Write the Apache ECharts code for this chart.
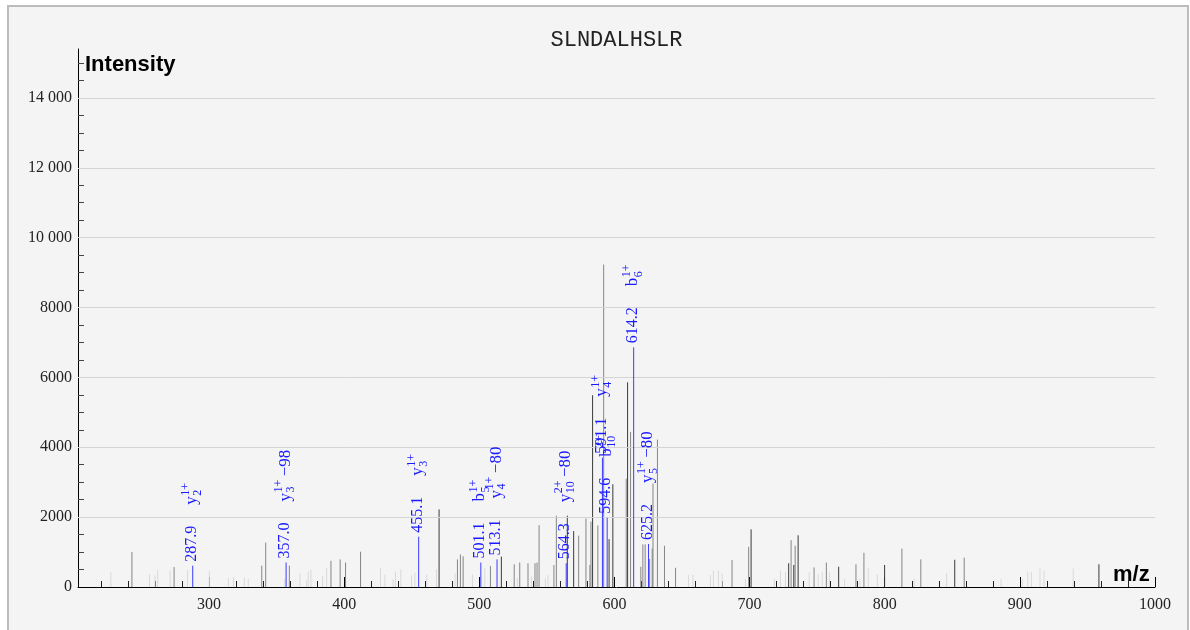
<!DOCTYPE html>
<html><head><meta charset="utf-8">
<script src="https://cdn.jsdelivr.net/npm/echarts@6/dist/echarts.min.js"></script>
<style>
html,body{margin:0;padding:0;background:#fff;width:1190px;height:630px;overflow:hidden}
#frame{position:absolute;left:7px;top:5px;width:1182px;height:700px;box-sizing:border-box;border:2px solid #bcbcbc;background:#f4f4f4}
#chart{position:absolute;left:0;top:0;width:1190px;height:630px}
</style></head><body>
<div id="frame"></div><div id="chart"></div>
<script>
// ---------- data ----------
const peptide = 'SLNDALHSLR';
const xTickLabels = [300, 400, 500, 600, 700, 800, 900, 1000];
const xMinorTicks = [220,240,260,280,320,340,360,380,420,440,460,480,520,540,560,580,620,640,660,680,720,740,760,780,820,840,860,880,920,940,960,980];
const yTickLabels = [0, 2000, 4000, 6000, 8000, 10000, 12000, 14000];
const yMinorTicks = [500,1000,1500,2500,3000,3500,4500,5000,5500,6500,7000,7500,8500,9000,9500,10500,11000,11500,12500,13000,13500,14500,15000];

const darkPeaks = [[470.2,2220],[516.3,870],[565.1,2040],[569.8,1600],[583.8,5490],[596.0,1370],[598.8,2940],[609.7,5860],[701.1,1650],[728.9,680],[732.7,630],[735.9,1480],[765.9,580],[799.9,630],[851.8,780],[958.5,650]];
const greyPeaks = [[242.9,1000],[274.1,570],[339.0,610],[341.9,1270],[359.4,610],[390.2,750],[397.0,790],[401.0,700],[412.1,1010],[483.8,790],[486.0,930],[488.0,880],[508.2,600],[525.8,650],[529.9,700],[536.0,680],[541.2,680],[542.7,700],[544.2,1770],[555.2,630],[557.0,2040],[573.5,1470],[578.9,1960],[581.8,630],[582.6,1870],[587.7,1760],[592.0,9230],[608.7,3100],[611.9,4440],[619.5,580],[621.0,1220],[622.7,1220],[626.0,800],[627.9,1100],[628.5,2960],[631.8,4220],[637.0,1180],[645.2,550],[687.0,770],[699.3,1150],[730.7,1340],[733.7,1180],[747.7,560],[756.8,700],[778.7,650],[784.6,980],[812.7,1100],[826.7,790],[858.8,840]];
const lightPeaks = [[227.3,430],[255.9,370],[260.0,340],[262.0,490],[271.2,460],[284.0,490],[300.2,460],[314.3,260],[318.0,280],[326.1,260],[329.0,230],[356.0,230],[367.3,390],[372.2,200],[373.4,440],[375.4,490],[384.0,300],[387.0,550],[426.9,550],[430.1,360],[436.2,220],[438.0,440],[441.9,500],[449.8,340],[452.3,410],[461.1,360],[468.3,500],[482.0,390],[494.9,360],[504.0,530],[528.2,260],[538.5,300],[548.9,250],[550.8,340],[654.8,340],[658.0,360],[671.0,340],[673.2,460],[676.9,470],[679.7,390],[696.9,230],[718.3,230],[722.8,460],[726.5,440],[744.1,420],[750.8,370],[753.8,420],[759.0,420],[770.3,230],[781.7,230],[787.8,530],[794.5,370],[821.8,230],[845.8,400],[886.1,230],[901.8,230],[905.8,440],[908.5,430],[914.9,530],[917.9,470],[939.5,530]];

const ionMz        = [287.9, 357.0, 455.1, 501.1, 513.1, 564.3, 591.1, 594.6, 614.2, 625.2];
const ionIntensity = [610, 700, 1440, 700, 790, 680, 3700, 1980, 6860, 1230];
const ionBase      = ['y', 'y', 'y', 'b', 'y', 'y', 'y', 'b', 'b', 'y'];
const ionSub       = ['2', '3', '3', '5', '4', '10', '4', '10', '6', '5'];
const ionSup       = ['1+', '1+', '1+', '1+', '1+', '2+', '1+', '2+', '1+', '1+'];
const ionSuffix    = ['', '\u221298', '', '', '\u221280', '\u221280', '', '', '', '\u221280'];

// ---------- styles ----------
const SERIF = '"Liberation Serif", "Times New Roman", serif';
const BLUE = '#1a1aff';
const numFont = '16px ' + SERIF;
const baseFont = '17px ' + SERIF;
const smallFont = '12px ' + SERIF;

const mctx = document.createElement('canvas').getContext('2d');
function tw(text, font) { mctx.font = font; return mctx.measureText(text).width; }

function lineRenderer(color) {
  return function (params, api) {
    const top = api.coord([api.value(0), api.value(1)]);
    const bot = api.coord([api.value(0), 0]);
    return { type: 'line', silent: true,
      shape: { x1: top[0], y1: top[1], x2: bot[0], y2: bot[1] },
      style: { stroke: color, lineWidth: 1 } };
  };
}

function ionRenderer(params, api) {
  const i = params.dataIndex;
  const top = api.coord([api.value(0), api.value(1)]);
  const bot = api.coord([api.value(0), 0]);
  const x0 = 61;
  const wb = tw(ionBase[i], baseFont);
  const ws = Math.max(tw(ionSub[i], smallFont), tw(ionSup[i], smallFont));
  const kids = [
    { type: 'text', x: 4, y: -1, style: { text: ionMz[i].toFixed(1), font: numFont, fill: BLUE, align: 'left', verticalAlign: 'middle' } },
    { type: 'text', x: x0, y: -1, style: { text: ionBase[i], font: baseFont, fill: BLUE, align: 'left', verticalAlign: 'middle' } },
    { type: 'text', x: x0 + wb + 0.5, y: 5, style: { text: ionSub[i], font: smallFont, fill: BLUE, align: 'left', verticalAlign: 'middle' } },
    { type: 'text', x: x0 + wb + 0.5, y: -7, style: { text: ionSup[i], font: smallFont, fill: BLUE, align: 'left', verticalAlign: 'middle' } }
  ];
  if (ionSuffix[i]) {
    kids.push({ type: 'text', x: x0 + wb + ws + 4, y: -1, style: { text: ionSuffix[i], font: baseFont, fill: BLUE, align: 'left', verticalAlign: 'middle' } });
  }
  return { type: 'group', silent: true, children: [
    { type: 'line', shape: { x1: top[0], y1: top[1], x2: bot[0], y2: bot[1] }, style: { stroke: '#3c3cff', lineWidth: 1 } },
    { type: 'group', x: top[0], y: top[1], rotation: Math.PI / 2, children: kids }
  ] };
}

const chart = echarts.init(document.getElementById('chart'), null, { renderer: 'canvas' });
const axisBase = { type: 'value', min: 203, max: 1000 };
chart.setOption({
  animation: false,
  backgroundColor: 'transparent',
  grid: { left: 78, right: 35, top: 49, bottom: 43, containLabel: false },
  xAxis: [
    Object.assign({}, axisBase, {
      position: 'bottom',
      axisLine: { show: true, onZero: false, lineStyle: { color: '#000', width: 1 } },
      axisTick: { show: true, inside: true, length: 10, customValues: xTickLabels, lineStyle: { color: '#000' } },
      axisLabel: { show: true, customValues: xTickLabels, margin: 10, color: '#222', fontFamily: 'Liberation Serif', fontSize: 16,
        formatter: function (v) { return String(v); } },
      splitLine: { show: false }
    }),
    Object.assign({}, axisBase, {
      position: 'bottom',
      axisLine: { show: false, onZero: false },
      axisTick: { show: true, inside: true, length: 6, customValues: xMinorTicks, lineStyle: { color: '#222' } },
      axisLabel: { show: false },
      splitLine: { show: false }
    })
  ],
  yAxis: [
    {
      type: 'value', min: 0, max: 15400, position: 'left',
      axisLine: { show: true, onZero: false, lineStyle: { color: '#000', width: 1 } },
      axisTick: { show: true, inside: true, length: 10, customValues: yTickLabels, lineStyle: { color: '#000' } },
      axisLabel: { show: true, customValues: yTickLabels, margin: 6, color: '#222', fontFamily: 'Liberation Serif', fontSize: 16,
        formatter: function (v) { return v >= 10000 ? String(Math.floor(v / 1000)) + ' ' + String(v % 1000).padStart(3, '0') : String(v); } },
      splitLine: { show: false }
    },
    {
      type: 'value', min: 0, max: 15400, position: 'left',
      axisLine: { show: false, onZero: false },
      axisTick: { show: true, inside: true, length: 6, customValues: yMinorTicks, lineStyle: { color: '#444' } },
      axisLabel: { show: false },
      splitLine: { show: false }
    }
  ],
  graphic: [
    { type: 'text', x: 616.5, y: 40, style: { text: peptide, font: '22px "Liberation Mono", "Courier New", monospace', fill: '#222', align: 'center', verticalAlign: 'middle' } },
    { type: 'text', x: 85, y: 64.5, style: { text: 'Intensity', font: 'bold 22px "Liberation Sans", Arial, sans-serif', fill: '#000', align: 'left', verticalAlign: 'middle' } },
    { type: 'text', x: 1113, y: 574.5, style: { text: 'm/z', font: 'bold 22px "Liberation Sans", Arial, sans-serif', fill: '#000', align: 'left', verticalAlign: 'middle' } }
  ],
  series: [
    { type: 'line', xAxisIndex: 0, yAxisIndex: 0, data: [], silent: true,
      markLine: { silent: true, symbol: 'none', label: { show: false }, lineStyle: { color: '#d4d4d4', type: 'solid', width: 1 },
        data: yTickLabels.filter(function (v) { return v > 0; }).map(function (v) { return { yAxis: v }; }) } },
    { type: 'custom', xAxisIndex: 0, yAxisIndex: 0, renderItem: lineRenderer('#d9d9d9'), data: lightPeaks, clip: false },
    { type: 'custom', xAxisIndex: 0, yAxisIndex: 0, renderItem: lineRenderer('#858585'), data: greyPeaks, clip: false },
    { type: 'custom', xAxisIndex: 0, yAxisIndex: 0, renderItem: lineRenderer('#3a3a3a'), data: darkPeaks, clip: false },
    { type: 'custom', xAxisIndex: 0, yAxisIndex: 0, renderItem: ionRenderer, data: ionMz.map(function (m, i) { return [m, ionIntensity[i]]; }), clip: false, z: 5 }
  ]
});
</script>
</body></html>
